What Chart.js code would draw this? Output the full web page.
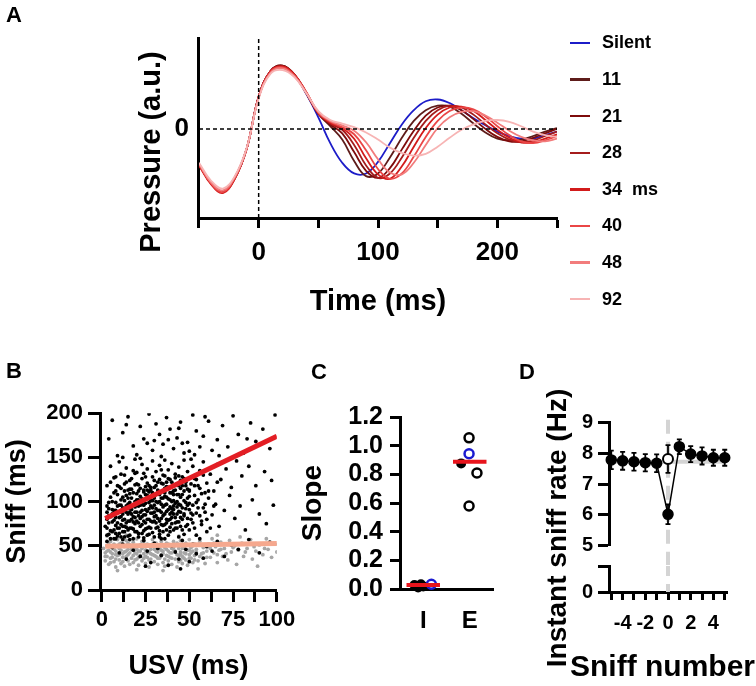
<!DOCTYPE html>
<html>
<head>
<meta charset="utf-8">
<script src="https://cdn.jsdelivr.net/npm/chart.js@4.4.1/dist/chart.umd.min.js"></script>
<style>
  html, body { margin: 0; padding: 0; background: #fff; }
  #page { position: relative; width: 756px; height: 686px; overflow: hidden; font-family: 'Liberation Sans', Arial, sans-serif; color: #000; }
  #page canvas { position: absolute; }
  .tag { position: absolute; font-size: 22px; font-weight: bold; line-height: 22px; }
  #legendA { position: absolute; left: 570px; top: 24.7px; }
  #legendA .row { height: 36.6px; display: flex; align-items: center; font-size: 18px; font-weight: bold; white-space: pre; }
  #legendA .swatch { width: 20px; height: 2.5px; margin-right: 12px; }
</style>
</head>
<body>
<div id="page">
  <canvas id="chartA" width="600" height="356" style="left:0px;top:-26px"></canvas>
  <canvas id="chartB" width="300" height="291" style="left:0px;top:395px"></canvas>
  <canvas id="chartC" width="205" height="291" style="left:295px;top:395px"></canvas>
  <canvas id="chartD2" width="266" height="316" style="left:490px;top:370px"></canvas>
  <canvas id="chartD" width="256" height="170" style="left:500px;top:395px"></canvas>
  <div id="legendA"></div>
  <div class="tag" style="left:6px;top:4px">A</div>
  <div class="tag" style="left:6px;top:360px">B</div>
  <div class="tag" style="left:311px;top:361px">C</div>
  <div class="tag" style="left:519px;top:361px">D</div>
</div>
<script>
// ---- panel A: pressure traces, one per USV duration ----
const timeMs = [-50,-40,-30,-20,-10,0,10,20,30,40,50,60,70,80,90,100,110,120,130,140,150,160,170,180,190,200,210,220,230,240,250];
const pressureSilent = [-0.40,-0.60,-0.70,-0.55,-0.22,0.36,0.65,0.70,0.60,0.39,0.13,-0.16,-0.38,-0.50,-0.50,-0.37,-0.16,0.05,0.21,0.31,0.33,0.29,0.21,0.12,0.04,-0.03,-0.08,-0.11,-0.11,-0.07,-0.03];
const pressure11 = [-0.40,-0.61,-0.70,-0.55,-0.22,0.36,0.65,0.71,0.61,0.40,0.17,0.03,-0.12,-0.36,-0.53,-0.50,-0.32,-0.10,0.09,0.21,0.26,0.25,0.17,0.06,-0.04,-0.11,-0.13,-0.12,-0.08,-0.03,0.01];
const pressure21 = [-0.40,-0.61,-0.71,-0.55,-0.22,0.36,0.65,0.71,0.61,0.40,0.17,0.05,-0.05,-0.26,-0.47,-0.55,-0.44,-0.23,-0.02,0.15,0.24,0.26,0.21,0.11,0.00,-0.09,-0.14,-0.14,-0.10,-0.05,0.00];
const pressure28 = [-0.40,-0.61,-0.71,-0.56,-0.22,0.36,0.65,0.70,0.61,0.40,0.18,0.06,-0.01,-0.18,-0.41,-0.55,-0.50,-0.32,-0.10,0.09,0.21,0.26,0.24,0.16,0.05,-0.05,-0.12,-0.15,-0.13,-0.08,-0.03];
const pressure34 = [-0.41,-0.62,-0.72,-0.56,-0.22,0.36,0.65,0.70,0.61,0.41,0.18,0.07,0.01,-0.11,-0.33,-0.51,-0.56,-0.42,-0.20,0.01,0.16,0.24,0.25,0.20,0.10,-0.01,-0.10,-0.15,-0.15,-0.11,-0.06];
const pressure40 = [-0.40,-0.61,-0.71,-0.55,-0.22,0.35,0.64,0.69,0.60,0.41,0.18,0.08,0.02,-0.06,-0.24,-0.45,-0.56,-0.50,-0.31,-0.09,0.09,0.20,0.24,0.22,0.14,0.03,-0.07,-0.14,-0.16,-0.13,-0.08];
const pressure48 = [-0.39,-0.60,-0.69,-0.54,-0.22,0.35,0.63,0.68,0.59,0.40,0.19,0.09,0.04,-0.02,-0.15,-0.34,-0.49,-0.51,-0.38,-0.18,0.01,0.13,0.19,0.20,0.15,0.07,-0.02,-0.09,-0.13,-0.14,-0.11];
const pressure92 = [-0.38,-0.58,-0.67,-0.53,-0.21,0.34,0.62,0.66,0.58,0.40,0.20,0.10,0.06,0.02,-0.04,-0.12,-0.21,-0.27,-0.30,-0.28,-0.20,-0.10,-0.01,0.05,0.09,0.10,0.08,0.03,-0.03,-0.07,-0.09];
const traceLabels = ['Silent', '11', '21', '28', '34  ms', '40', '48', '92'];
const traceColors = ['#1c1cc8', '#5e1c1a', '#7e0b0b', '#a51c1c', '#d21b1b', '#ea4646', '#f27c7c', '#f7b4b4'];
const traces = [pressureSilent, pressure11, pressure21, pressure28, pressure34, pressure40, pressure48, pressure92];
const timeRange = [-50, 250];
const pressureRange = [-1, 1.02];

// ---- panel B: sniff duration vs USV duration ----
const vocalSniffs = [
  [6,192],[12,178],[15,196],[18,163],[22,185],[24,171],[27,199],[29,158],[31,188],[33,176],[35,165],[37,195],[39,182],[41,160],[43,172],[45,190],[47,155],[49,167],[52,198],[54,180],[56,162],[58,174],[61,191],[63,158],[66,170],[69,186],[72,162],[75,197],[78,176],[81,155],[85,189],[88,168],[92,182],[96,160],[99,198],[9,152],[20,153],[26,166],[34,151],[44,183],[50,157],[59,196],[67,152],[83,171],[4,171],[14,187],[38,170],[46,166],[53,153],[30,169],
  [3,118],[5,140],[7,127],[8,112],[10,145],[11,131],[13,120],[14,138],[16,114],[17,126],[19,148],[20,133],[21,119],[23,142],[24,111],[25,128],[26,137],[28,116],[29,146],[30,124],[31,134],[32,113],[33,141],[34,121],[35,130],[36,147],[37,117],[38,136],[39,125],[40,143],[41,112],[42,131],[43,120],[44,139],[45,115],[46,128],[47,147],[48,122],[49,134],[50,113],[52,140],[53,126],[55,118],[56,135],[58,145],[60,121],[62,131],[64,112],[66,142],[68,125],[71,137],[74,116],[77,146],[80,129],[84,140],[88,118],[93,134],[97,124],[27,111],[18,135],[22,149],[36,110],[12,150],[51,148],[59,110],
  [2,72],[3,95],[4,84],[4,63],[5,105],[6,77],[6,91],[7,68],[8,99],[8,82],[9,108],[9,61],[10,88],[11,74],[11,102],[12,66],[12,93],[13,80],[14,107],[14,71],[15,97],[15,86],[16,62],[16,78],[17,104],[17,91],[18,69],[18,83],[19,100],[19,75],[20,109],[20,88],[21,64],[21,95],[22,81],[22,72],[23,103],[23,90],[24,67],[24,85],[25,98],[25,76],[26,107],[26,62],[27,92],[27,80],[28,70],[28,101],[29,87],[29,65],[30,96],[30,78],[31,108],[31,84],[32,71],[32,99],[33,90],[33,63],[34,104],[34,81],[35,94],[35,73],[36,86],[36,106],[37,68],[37,97],[38,79],[38,91],[39,102],[39,66],[40,88],[40,75],[41,108],[41,95],[42,82],[42,70],[43,100],[44,89],[44,77],[45,105],[46,93],[46,68],[47,84],[48,99],[49,74],[50,91],[50,106],[51,80],[52,96],[53,70],[54,87],[55,102],[57,78],[58,93],[60,66],[61,104],[63,85],[65,97],[67,72],[70,90],[73,107],[76,81],[79,95],[82,68],[86,102],[90,86],[94,75],[98,96],[7,90],[13,60],
  [3,80],[4,99],[5,67],[5,122],[6,86],[7,110],[7,58],[8,73],[8,128],[9,95],[10,64],[10,117],[11,83],[12,105],[12,57],[13,92],[13,130],[14,76],[15,113],[15,61],[16,99],[16,124],[17,70],[17,86],[18,110],[18,58],[19,94],[19,132],[20,78],[20,120],[21,102],[21,60],[22,88],[22,115],[23,74],[23,126],[24,96],[24,59],[25,108],[25,85],[26,70],[26,121],[27,99],[27,63],[28,113],[28,87],[29,77],[29,128],[30,104],[30,60],[31,92],[31,118],[32,81],[32,110],[33,67],[33,125],[34,97],[34,58],[35,112],[35,84],[36,74],[36,129],[37,105],[37,89],[38,62],[38,116],[39,94],[39,80],[40,122],[40,100],[41,68],[41,86],[42,113],[42,127],[43,77],[43,94],[44,60],[44,118],[45,88],[45,72],[46,108],[47,126],[47,63],[48,92],[49,114],[49,81],[50,68],[51,120],[52,85],[53,107],[54,62],[55,93],[56,115],[57,74],[58,130],[59,88],[61,112],[62,70],[64,95],[66,122],
  [9,70],[10,96],[11,115],[12,79],[13,101],[14,88],[15,68],[16,109],[17,95],[18,77],[19,119],[20,66],[21,84],[22,106],[23,97],[24,78],[25,117],[26,89],[27,71],[28,95],[29,110],[30,83],[31,70],[32,122],[33,100],[34,88],[35,66],[36,115],[37,80],[38,103],[39,71],[40,110],[41,91],[42,76],[43,108],[44,97],[45,82],[46,118],[47,101],[48,72],[49,96],[50,112],[51,87],[52,76],[53,118],[54,99],[56,84],[57,109],[59,97],[60,80],
  [11,96],[13,72],[15,104],[17,80],[19,88],[21,112],[23,83],[25,69],[27,104],[29,93],[31,100],[33,78],[35,104],[37,122],[39,86],[41,101],[43,70],[45,96],[47,86],[49,104],[14,122],[24,132],[34,136],[44,129],[54,125],[20,96],[30,88],[40,82],[16,92],[26,113],
  [3,62],[3,70],[3,88],[4,76],[4,92],[5,58],[5,83],[6,66],[6,100],[7,79],[8,64],[8,90],[9,76],[9,118],[10,70],[10,82],[11,60],[11,90],[12,72],[12,86],[13,66],[13,112],[14,95],[15,78],[16,70],[16,88],[17,114],[18,96],[19,66],[19,82],[20,102],[21,76],[22,96],[23,64],[24,113],[25,91],[26,80],[27,118],[28,78],[29,101],[30,116],[31,76],[32,90],[33,108],[34,74],[35,120],[36,96],[37,76],[38,126],[39,110],[40,92],[41,118],[42,98],[43,86],[44,108],[45,124],[46,80],[47,112],[48,118],[50,98],
  [3,55],[6,48],[8,58],[10,42],[12,52],[14,35],[16,57],[18,45],[20,50],[22,38],[24,56],[26,44],[28,31],[30,53],[32,47],[34,39],[36,58],[38,28],[40,50],[42,43],[44,35],[46,56],[48,46],[50,32],[52,52],[54,41],[56,58],[58,36],[60,49],[63,44],[66,55],[70,38],[74,51],[78,46],[84,57],[90,42],[96,54],[25,27],[45,24],[33,60]
];
const silentSniffs = [
  [2,42],[2,33],[3,50],[3,38],[4,45],[4,29],[5,55],[5,36],[6,41],[6,48],[7,32],[7,52],[8,44],[8,26],[9,39],[9,57],[10,34],[10,47],[11,30],[11,53],[12,41],[12,37],[13,49],[13,27],[14,44],[14,56],[15,33],[15,40],[16,51],[16,29],[17,46],[17,36],[18,54],[18,31],[19,42],[19,48],[20,35],[20,58],[21,44],[21,28],[22,51],[22,39],[23,33],[23,47],[24,55],[24,41],[25,30],[25,45],[26,37],[26,52],[27,43],[27,26],[28,49],[28,35],[29,40],[29,57],[30,32],[30,46],[31,53],[31,38],[32,43],[32,29],[33,50],[33,36],[34,45],[34,55],[35,31],[35,41],[36,48],[36,27],[37,39],[37,53],[38,44],[38,33],[39,50],[39,37],[40,42],[40,29],[41,55],[41,46],[42,35],[42,51],[43,40],[43,26],[44,47],[44,32],[45,43],[45,56],[46,38],[46,30],[47,49],[47,42],[48,34],[48,53],[49,45],[49,28],[50,40],[50,57],[51,36],[51,48],[52,31],[52,44],[53,52],[53,39],[54,46],[55,33],[56,55],[57,41],[58,48],[59,30],[60,44],[61,52],[62,37],[63,58],[64,42],[65,49],[66,31],[67,45],[68,54],[69,38],[70,47],[72,34],[73,56],[74,43],[76,50],[77,29],[78,45],[80,53],[81,38],[83,47],[85,57],[86,35],[88,44],[90,51],[92,40],[94,58],[95,46],[97,37],[99,52],[100,43],[1,47],[3,61],[9,22],[14,62],[20,23],[27,63],[35,22],[44,61],[55,24],[66,62],[79,60],[89,27],
  [2,38],[3,44],[4,52],[5,31],[6,37],[7,46],[8,35],[9,50],[10,40],[11,45],[12,32],[13,43],[14,38],[15,53],[16,42],[17,50],[18,39],[19,34],[20,46],[21,37],[22,44],[23,55],[24,36],[25,49],[26,42],[27,34],[28,46],[29,52],[30,39],[31,44],[32,36],[33,47],[34,40],[35,51],[36,35],[37,46],[38,52],[39,42],[40,36],[41,48],[42,44],[43,53],[44,39],[45,34],[46,47],[47,36],[48,41],[49,51],[50,45],[51,42],[52,50],[53,34],[54,43],[56,38],[57,51],[58,42],[60,37],[62,47],[64,53],[66,40],[68,46],[71,41],[75,48],[82,43],[87,49],[93,47],[5,43],[10,52],[15,46],[20,41],[25,38],[30,50],[35,44],[40,47],[45,40],[50,36],[8,40],[18,48],[28,41],[38,38]
];
const fitUsv = [2, 100];
const fitSniffVocal = [81, 174];
const fitSniffSilent = [49.5, 52.5];
const usvTicks = [0, 12.5, 25, 37.5, 50, 62.5, 75, 87.5, 100];
const sniffTicks = [0, 50, 100, 150, 200];

// ---- panel C: slopes for inspiration / expiration ----
const slopeCats = ['I', 'E'];
const catPos = [1, 3];
const slopeFilled = [[0.62,0.03],[0.78,0.012],[0.9,0.035],[1.0,0.02],[2.63,0.877]];
const slopeOpen = [[2.97,1.055],[3.31,0.81],[2.97,0.58]];
const slopeBlue = [[1.35,0.035],[2.97,0.944]];
const slopeMedians = [0.03, 0.888];
const slopeTicks = [0, 0.2, 0.4, 0.6, 0.8, 1.0, 1.2];

// ---- panel D: instantaneous sniff rate around the call ----
const sniffNum = [-5,-4,-3,-2,-1,0,1,2,3,4,5];
const sniffRate = [7.79,7.76,7.73,7.70,7.68,6.02,8.22,7.98,7.92,7.86,7.86];
const sniffErr = [0.30,0.29,0.29,0.28,0.29,0.32,0.24,0.26,0.28,0.26,0.26];
const silentRate = [7.82];
const silentErr = [0.45];
const baselineRate = 7.73;
const sniffLabels = [-4, -2, 0, 2, 4];

Chart.defaults.font.family = "'Liberation Sans', Arial, sans-serif";
Chart.defaults.color = '#000';
Chart.defaults.animation = false;
Chart.defaults.events = [];
Chart.defaults.plugins.legend.display = false;
Chart.defaults.plugins.tooltip.enabled = false;

const bold = size => ({ size: size, weight: 'bold' });
const line = () => ({ color: '#000', width: 3 });
const tickMarks = len => ({ drawOnChartArea: false, tickLength: len, tickWidth: 3, tickColor: '#000' });
const toXY = (xs, ys) => xs.map((x, i) => ({ x: x, y: ys[i] }));
const pairs = arr => arr.map(p => ({ x: p[0], y: p[1] }));
// empty axis used only to reserve room on one side
const spacer = (position, size) => ({
  type: 'linear', position: position, min: 0, max: 1,
  ticks: { display: false },
  grid: { display: false, drawTicks: false },
  border: { display: false },
  afterFit: s => { if (s.isHorizontal()) s.height = size; else s.width = size; }
});

// legend for A
const legendBox = document.getElementById('legendA');
traceLabels.forEach((lab, i) => {
  const row = document.createElement('div');
  row.className = 'row';
  const sw = document.createElement('span');
  sw.className = 'swatch';
  sw.style.background = traceColors[i];
  row.appendChild(sw);
  row.appendChild(document.createTextNode(lab));
  legendBox.appendChild(row);
});

new Chart(document.getElementById('chartA'), {
  type: 'line',
  data: {
    datasets: [
      { data: [{ x: timeRange[0], y: 0 }, { x: timeRange[1], y: 0 }], borderColor: '#000', borderWidth: 1.5, borderDash: [4, 3], pointRadius: 0, order: 0 },
      { data: [{ x: 0, y: pressureRange[0] }, { x: 0, y: pressureRange[1] }], borderColor: '#000', borderWidth: 1.5, borderDash: [4, 3], pointRadius: 0, order: 0 }
    ].concat(traces.map((vals, i) => ({
      label: traceLabels[i],
      data: toXY(timeMs, vals),
      borderColor: traceColors[i],
      borderWidth: 1.8,
      pointRadius: 0,
      tension: 0.4,
      fill: false,
      order: 9 - i
    })))
  },
  options: {
    responsive: false,
    layout: { padding: { left: 0, top: 0, right: 43, bottom: 0 } },
    plugins: {
      title: { display: true, position: 'left', text: 'Pressure (a.u.)', font: bold(29), color: '#000', padding: { top: 134.6, bottom: 0 } }
    },
    scales: {
      x: {
        type: 'linear', min: timeRange[0], max: timeRange[1],
        ticks: { stepSize: 50, autoSkip: false, maxRotation: 0, font: bold(26), padding: 9, callback: v => (v % 100 === 0 ? String(v) : '') },
        grid: tickMarks(10),
        border: line(),
        title: { display: true, text: 'Time (ms)', font: bold(29), padding: { top: 0, bottom: 10.6 } },
        afterFit: s => { s.height = 112; }
      },
      y: {
        type: 'linear', min: pressureRange[0], max: pressureRange[1],
        afterBuildTicks: s => { s.ticks = [{ value: 0 }]; },
        ticks: { font: bold(26), padding: 10 },
        grid: { display: false, drawTicks: false },
        border: line(),
        afterFit: s => { s.width = 29.6; }
      },
      xTop: spacer('top', 64)
    }
  }
});

new Chart(document.getElementById('chartB'), {
  type: 'scatter',
  data: {
    datasets: [
      { data: toXY(fitUsv, fitSniffVocal), showLine: true, borderColor: '#e31e24', borderWidth: 5, pointRadius: 0 },
      { data: toXY(fitUsv, fitSniffSilent), showLine: true, borderColor: '#f5a88e', borderWidth: 5, pointRadius: 0 },
      { data: pairs(vocalSniffs), pointRadius: 1.9, borderWidth: 0, backgroundColor: '#000' },
      { data: pairs(silentSniffs), pointRadius: 1.9, borderWidth: 0, backgroundColor: '#a6a6a6' }
    ]
  },
  options: {
    responsive: false,
    layout: { padding: { left: 0, top: 16.7, right: 20, bottom: 0 } },
    scales: {
      x: {
        type: 'linear', min: -1, max: 100,
        afterBuildTicks: s => { s.ticks = usvTicks.map(v => ({ value: v })); },
        ticks: { autoSkip: false, maxRotation: 0, font: bold(22), padding: 4.8, callback: v => (v % 25 === 0 ? String(v) : '') },
        grid: tickMarks(12),
        border: line(),
        title: { display: true, text: 'USV (ms)', font: bold(27), padding: { top: 0, bottom: 2.8 } },
        afterFit: s => { s.height = 96; }
      },
      y: {
        type: 'linear', min: 0, max: 200,
        afterBuildTicks: s => { s.ticks = sniffTicks.map(v => ({ value: v })); },
        ticks: { autoSkip: false, font: bold(22), padding: 5 },
        grid: tickMarks(12),
        border: line(),
        title: { display: true, text: 'Sniff (ms)', font: bold(27), padding: { top: 1, bottom: 0 } },
        afterFit: s => { s.width = 100; }
      }
    }
  }
});

const medianHalf = 0.72;
new Chart(document.getElementById('chartC'), {
  type: 'scatter',
  data: {
    datasets: slopeMedians.map((m, i) => ({
      data: [{ x: catPos[i] - medianHalf, y: m }, { x: catPos[i] + medianHalf, y: m }],
      showLine: true, borderColor: '#e8141c', borderWidth: 4, pointRadius: 0, clip: false
    })).concat([
      { data: pairs(slopeBlue), pointRadius: 4.5, borderWidth: 2.5, borderColor: '#1a1ad0', backgroundColor: '#fff', clip: false },
      { data: pairs(slopeOpen), pointRadius: 4.5, borderWidth: 2.5, borderColor: '#000', backgroundColor: '#fff', clip: false },
      { data: pairs(slopeFilled), pointRadius: 5, borderWidth: 0, backgroundColor: '#000', clip: false }
    ])
  },
  options: {
    responsive: false,
    layout: { padding: { left: 0, top: 15, right: 7, bottom: 0 } },
    scales: {
      x: {
        type: 'linear', min: 0, max: 4,
        afterBuildTicks: s => { s.ticks = catPos.map(v => ({ value: v })); },
        ticks: { autoSkip: false, maxRotation: 0, font: bold(24), padding: 18, callback: v => slopeCats[catPos.indexOf(v)] },
        grid: { display: false, drawTicks: false },
        border: line(),
        afterFit: s => { s.height = 96.7; }
      },
      y: {
        type: 'linear', min: 0, max: 1.2,
        afterBuildTicks: s => { s.ticks = slopeTicks.map(v => ({ value: v })); },
        ticks: { autoSkip: false, font: bold(25), padding: 7, callback: v => v.toFixed(1) },
        grid: tickMarks(10),
        border: line(),
        title: { display: true, text: 'Slope', font: bold(28), padding: { top: 1.2, bottom: 0 } },
        afterFit: s => { s.width = 105; }
      }
    }
  }
});

// error bars as line pieces with gaps
const capHalf = 0.22;
function errorBars(xs, ys, errs) {
  const pts = [];
  xs.forEach((x, i) => {
    const lo = ys[i] - errs[i], hi = ys[i] + errs[i];
    pts.push({ x: x, y: lo }, { x: x, y: hi }, { x: x, y: null },
      { x: x - capHalf, y: hi }, { x: x + capHalf, y: hi }, { x: x, y: null },
      { x: x - capHalf, y: lo }, { x: x + capHalf, y: lo }, { x: x, y: null });
  });
  return pts;
}
const eventLineSpan = [4.35, 9.1];
const lowerRange = [0, 0.85];

new Chart(document.getElementById('chartD'), {
  type: 'scatter',
  data: {
    datasets: [
      { data: toXY(sniffNum, sniffRate), showLine: true, borderColor: '#000', borderWidth: 1.5, pointRadius: 5, backgroundColor: '#000', clip: false },
      { data: toXY([0], silentRate), pointRadius: 5, borderWidth: 2, borderColor: '#000', backgroundColor: '#fff', clip: false },
      { data: errorBars(sniffNum, sniffRate, sniffErr).concat(errorBars([0], silentRate, silentErr)), showLine: true, spanGaps: false, borderColor: '#000', borderWidth: 1.8, pointRadius: 0, clip: false },
      { data: [{ x: sniffNum[0], y: baselineRate }, { x: sniffNum[sniffNum.length - 1], y: baselineRate }], showLine: true, borderColor: '#d4d4d4', borderWidth: 4, pointRadius: 0, clip: false },
      { data: [{ x: 0, y: eventLineSpan[1] }, { x: 0, y: eventLineSpan[0] }], showLine: true, borderColor: '#d4d4d4', borderWidth: 4, borderDash: [14, 8], pointRadius: 0, clip: false }
    ]
  },
  options: {
    responsive: false,
    layout: { padding: { left: 0, top: 27.7, right: 29, bottom: 19.3 } },
    scales: {
      x: { type: 'linear', display: false, min: -5.2, max: 5.2 },
      y: {
        type: 'linear', min: 5, max: 9,
        ticks: { stepSize: 1, autoSkip: false, font: bold(20), padding: 5 },
        grid: tickMarks(11),
        border: line(),
        afterFit: s => { s.width = 109; }
      }
    }
  }
});

new Chart(document.getElementById('chartD2'), {
  type: 'scatter',
  data: {
    datasets: [
      { data: [{ x: 0, y: lowerRange[1] }, { x: 0, y: lowerRange[0] }], showLine: true, borderColor: '#d4d4d4', borderWidth: 4, borderDash: [14, 8], borderDashOffset: 4, pointRadius: 0, clip: false }
    ]
  },
  options: {
    responsive: false,
    layout: { padding: { left: 0, top: 0, right: 1, bottom: 0 } },
    plugins: {
      title: { display: true, position: 'left', text: 'Instant sniff rate (Hz)', font: bold(28), color: '#000', padding: { top: 51.2, bottom: 0 } },
      subtitle: { display: true, position: 'bottom', align: 'end', text: 'Sniff number', font: bold(30), color: '#000', padding: { top: 0, bottom: 0 } }
    },
    scales: {
      x: {
        type: 'linear', min: -5.2, max: 5.2,
        afterBuildTicks: s => { s.ticks = sniffNum.map(v => ({ value: v })); },
        ticks: { autoSkip: false, maxRotation: 0, font: bold(20), padding: 11, callback: v => (sniffLabels.includes(v) ? String(v) : '') },
        grid: tickMarks(8),
        border: line(),
        afterFit: s => { s.height = 58; }
      },
      y: {
        type: 'linear', min: lowerRange[0], max: lowerRange[1],
        afterBuildTicks: s => { s.ticks = lowerRange.map(v => ({ value: v })); },
        ticks: { autoSkip: false, font: bold(20), padding: 5, callback: v => (v === 0 ? '0' : '') },
        grid: tickMarks(11),
        border: line(),
        afterFit: s => { s.width = 34.2; }
      },
      xTop: spacer('top', 196),
      yRight: spacer('right', 28)
    }
  }
});
</script>
</body>
</html>
